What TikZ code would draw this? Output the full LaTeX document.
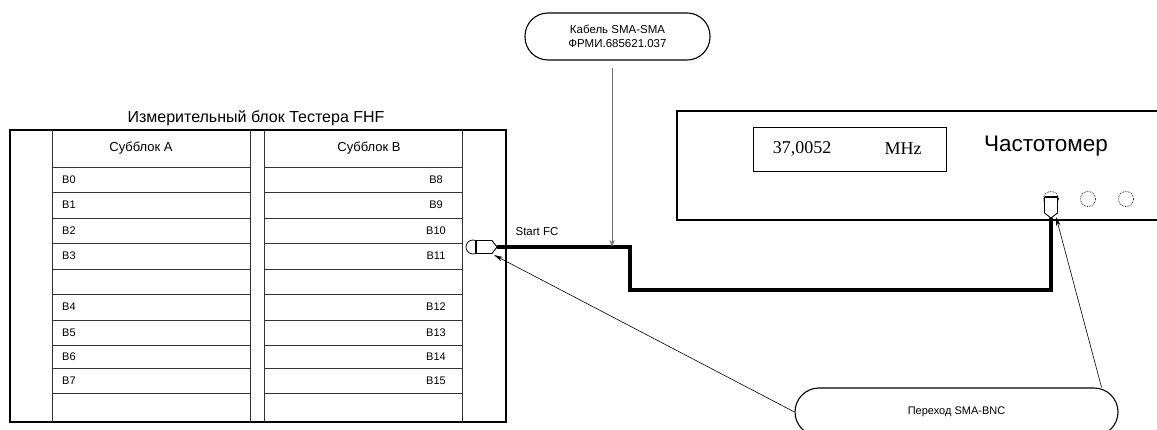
\documentclass[tikz,border=0pt]{standalone}
\usepackage{fontspec}
\setmainfont{Liberation Sans}
\newfontfamily\dispfont{Liberation Serif}
\usetikzlibrary{arrows.meta,positioning}
\tikzset{
  frame/.style={draw=black,line width=1.1pt},
  rule/.style={draw=black!80,line width=0.8pt},
  cable/.style={draw=black,line width=3.6pt},
  feed/.style={-{Stealth[length=7pt,width=5pt]},draw=black!55,line width=1pt},
  pointer/.style={-{Stealth[length=9pt,width=4.5pt]},black,line width=0.6pt},
  callout/.style={draw=black,line width=1.1pt,rounded corners=23pt,fill=white,
                  align=center,font=\fontsize{11.5}{13.5}\selectfont},
  cell/.style={inner sep=3pt,font=\fontsize{11}{13}\selectfont},
  note/.style={font=\fontsize{11.5}{14}\selectfont},
  display/.style={font=\dispfont\fontsize{18}{20}\selectfont},
  socket/.style={draw=black,line width=0.7pt,fill=white},
}
\newcommand{\smaplug}[3]{%
  \begin{scope}[shift={(#1,#2)},rotate=#3]
    \path[fill=white,draw=black,line width=0.9pt,line join=round]
      (-21,-6.5) -- (-5,-6.5) -- (0,0) -- (-5,6.5) -- (-21,6.5) -- cycle;
    \draw[line width=1.6pt] (-21,-6.5) -- (-21,6.5);
  \end{scope}%
}

\begin{document}
\begin{tikzpicture}[x=1pt,y=-1pt]
  \useasboundingbox (0,0) rectangle (1157,430);

  % tester block: two sub-blocks of slots
  \node[note,font=\fontsize{16}{18}\selectfont] (tester) at (256,118) {Измерительный блок Тестера FHF};
  \draw[frame] (10,130) rectangle (506,422);
  \draw[rule] (52,130) -- (52,422) (250,130) -- (250,422)
              (264,130) -- (264,422) (462,130) -- (462,422);
  \foreach \y in {167,192,218,243,269,294,320,345,368,393}
    \draw[rule] (52,\y) -- (250,\y) (264,\y) -- (462,\y);
  \node[cell,font=\fontsize{13}{15}\selectfont] (headA) at (141,148.5) {Субблок A};
  \node[cell,font=\fontsize{13}{15}\selectfont] (headB) at (369,148.5) {Субблок B};
  \foreach \n/\y in {0/179.5,1/205,2/230.5,3/256,4/307,5/332.5,6/356.5,7/380.5} {
    \pgfmathtruncatemacro\m{\n+8}
    \node[cell,anchor=west] (slotA\n) at (59,\y) {B\n};
    \node[cell] (slotB\n) at (436,\y) {B\m};
  }

  % frequency meter
  \draw[frame] (677,111) rectangle (1175,220);
  \node[draw=black,line width=0.9pt,minimum width=193pt,minimum height=44pt] (screen) at (849.5,149) {};
  \node[display] (freq) at (802,149) {37,0052};
  \node[display] (unit) at (903,149) {MHz};
  \node[note,font=\fontsize{22.5}{26}\selectfont] (meter) at (1046,146) {Частотомер};
  \draw[socket,densely dotted] (1088,199) circle (7.5);
  \draw[socket,densely dotted] (1126,199) circle (7.5);
  \draw[socket,densely dotted] (1051,199) circle (7.5);

  % cable SMA-SMA
  \coordinate (plugA) at (497,247);
  \coordinate (plugB) at (1051,218);
  \coordinate (low) at (630,290);
  \coordinate (tap) at (612,247);
  \draw[socket] (473,247) circle (7);
  \draw[cable] (plugA) -| (low) -| (plugB);
  \smaplug{497}{247}{0}
  \smaplug{1051}{218}{-90}
  \node[note] (start) at (537,232) {Start FC};

  \node[callout,minimum width=185pt,minimum height=47pt] (cable) at (617.5,36.5)
    {Кабель SMA-SMA\\ФРМИ.685621.037};
  \draw[feed,shorten <=7pt] (cable.south -| tap) -- (tap);

  % adapter SMA-BNC
  \node[callout,rounded corners=24pt,minimum width=323pt,minimum height=48pt,
        font=\fontsize{11}{13}\selectfont] (adapter) at (956.5,412) {Переход SMA-BNC};
  \coordinate (tipA) at (494,255);
  \coordinate (tipB) at (1056,217);
  \draw[pointer] (adapter.west) -- (tipA);
  \draw[pointer] ([xshift=-17pt]adapter.north east) -- (tipB);
\end{tikzpicture}
\end{document}
